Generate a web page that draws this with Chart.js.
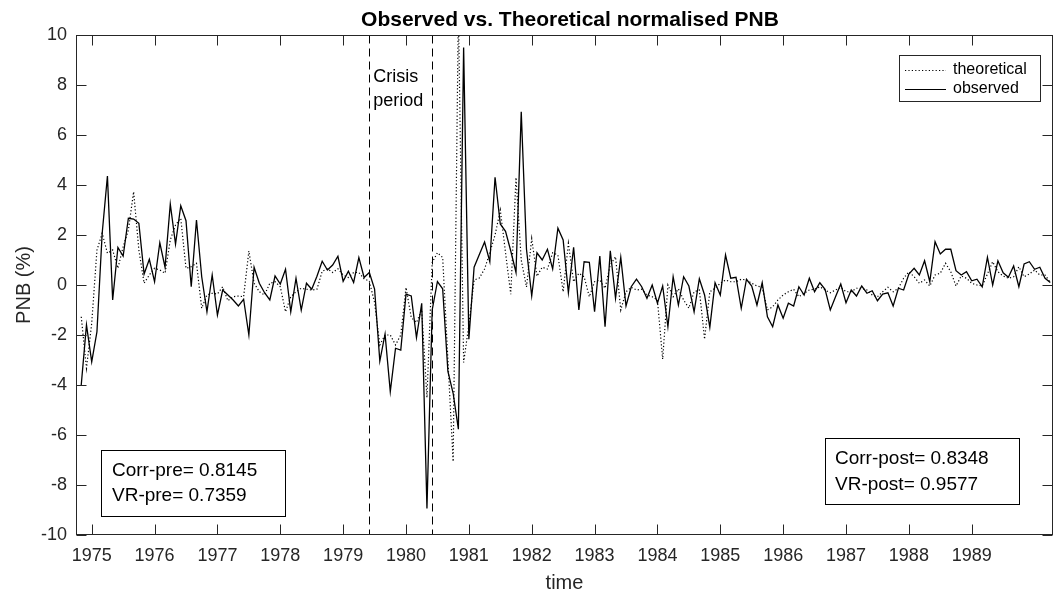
<!DOCTYPE html>
<html><head><meta charset="utf-8">
<script src="https://cdn.jsdelivr.net/npm/chart.js@4/dist/chart.umd.min.js"></script>
<style>html,body{margin:0;padding:0;background:#fff}canvas{display:block}</style>
</head><body>
<canvas id="c" width="1054" height="597"></canvas>
<script>
// Monthly series, first month = Nov 1974
const startYear = 1974, startMonth = 11;
const observed = [-4.0,-1.6,-3.07,-1.87,2.07,4.36,-0.6,1.5,1.16,2.67,2.64,2.47,0.44,1.03,0.13,1.69,0.71,3.24,1.64,3.17,
2.57,-0.07,2.6,0.33,-1.07,0.4,-1.2,-0.2,-0.4,-0.6,-0.84,-0.57,-2.0,0.71,0.07,-0.31,-0.6,0.36,0.04,0.63,
-1.07,0.27,-1.0,0.07,-0.17,0.35,0.95,0.6,0.8,1.15,0.15,0.55,0.1,1.1,0.3,0.5,-0.16,-3.04,-1.96,-4.26,
-2.53,-2.6,-0.37,-0.44,-2.1,-0.73,-8.94,-1.0,0.14,-0.15,-3.46,-4.33,-5.77,9.5,-2.17,0.71,1.22,1.72,0.93,4.31,
2.44,2.15,1.36,0.5,6.93,1.43,-0.44,1.29,1.0,1.43,0.64,2.27,1.8,-0.31,1.51,-1.0,0.93,0.91,-1.07,1.16,
-1.67,1.37,-0.53,1.11,-0.84,-0.07,0.23,-0.07,-0.53,0.0,-0.73,-0.04,-1.67,0.33,-0.8,0.33,-0.04,-1.07,0.25,-0.4,
-1.69,0.09,-0.4,1.2,0.27,0.31,-0.93,0.23,-0.04,-0.8,0.09,-1.27,-1.67,-0.8,-1.33,-0.73,-0.84,-0.07,-0.4,0.27,
-0.27,0.09,-0.17,-1.0,-0.47,0.04,-0.71,-0.2,-0.44,-0.04,-0.33,-0.23,-0.63,-0.36,-0.31,-0.84,-0.13,-0.2,0.44,0.67,
0.4,0.97,0.13,1.73,1.24,1.43,1.43,0.57,0.4,0.53,0.17,0.23,-0.07,1.11,0.0,0.97,0.49,0.31,0.76,-0.07,
0.84,0.93,0.63,0.71,0.27,0.1];
const theoretical = [-1.27,-3.33,-1.53,1.4,2.07,1.27,1.4,0.67,1.53,2.2,3.73,1.4,0.07,0.4,0.67,0.6,0.47,1.8,2.4,2.67,
0.67,0.73,0.87,-0.93,-0.4,-0.33,-0.36,-0.07,-0.63,-0.47,-0.44,-0.47,1.36,0.07,-0.27,-0.4,0.07,0.13,-0.07,-1.07,
-0.47,-0.27,-0.13,-0.17,-0.2,-0.17,0.55,0.65,0.5,0.65,0.4,0.3,0.5,0.5,0.25,0.15,-0.7,-2.4,-2.0,-2.0,
-2.4,-2.0,-0.1,-1.3,-1.5,-1.0,-4.5,0.9,1.29,1.1,-3.0,-7.06,11,-3.1,-1.6,0.2,0.28,0.64,1.29,2.0,
3.0,1.29,-0.37,4.3,1.0,-0.08,1.86,0.35,0.71,0.64,1.29,1.2,-0.27,1.67,0.13,0.47,0.33,-0.47,0.13,0.2,
-0.13,0.8,1.13,-1.0,-0.27,-0.09,-0.2,-0.17,-0.4,-0.47,-0.6,-2.97,0.0,-0.47,-0.15,-0.6,-0.93,-0.27,-0.2,-2.17,
-0.27,-0.13,0.07,0.2,0.13,0.13,0.23,0.2,0.07,-0.04,-0.09,-1.0,-0.87,-0.6,-0.4,-0.27,-0.17,-0.47,-0.33,-0.2,
-0.17,-0.07,-0.2,-0.31,-0.2,-0.09,-0.27,-0.27,-0.13,-0.13,-0.2,-0.4,-0.47,-0.27,-0.09,-0.27,-0.13,0.27,0.53,0.33,
0.07,0.2,-0.04,0.4,0.47,0.87,0.53,-0.04,0.36,0.27,0.07,0.0,-0.04,0.44,0.93,0.53,0.36,0.27,0.33,0.73,
0.33,0.44,0.6,0.4,0.4,0.1];
const xTicks = [1975,1976,1977,1978,1979,1980,1981,1982,1983,1984,1985,1986,1987,1988,1989];
const yTicks = [-10,-8,-6,-4,-2,0,2,4,6,8,10];
const crisisStartIdx = 55, crisisEndIdx = 67;
const seriesNames = ['theoretical','observed'];
const statsPre = ['Corr-pre= 0.8145','VR-pre= 0.7359'];
const statsPost = ['Corr-post= 0.8348','VR-post= 0.9577'];
const titleText = 'Observed vs. Theoretical normalised PNB';
const xTitle = 'time', yTitle = 'PNB (%)';
const crisisText = ['Crisis','period'];

const t = i => startYear + (startMonth - 1 + i) / 12;
const toPts = arr => arr.map((v, i) => ({x: t(i), y: v}));
const FONT = '"Liberation Sans", Arial, Helvetica, sans-serif';
const AX = '#262626';

const deco = {
  id: 'deco',
  beforeDraw(chart) {
    const c = chart.ctx; c.save(); c.fillStyle = '#fff'; c.fillRect(0, 0, chart.width, chart.height); c.restore();
  },
  afterDraw(chart) {
    const c = chart.ctx, a = chart.chartArea, sx = chart.scales.x, sy = chart.scales.y;
    const L = Math.round(a.left) + 0.5, R = Math.round(a.right) - 0.5, T = Math.round(a.top) + 0.5, B = Math.round(a.bottom) - 0.5;
    c.save();
    // crisis dashed lines
    c.strokeStyle = '#000'; c.lineWidth = 1; c.setLineDash([8, 5]);
    [crisisStartIdx, crisisEndIdx].forEach(i => {
      const px = Math.round(sx.getPixelForValue(t(i))) + 0.5;
      c.beginPath(); c.moveTo(px, T); c.lineTo(px, B); c.stroke();
    });
    c.setLineDash([]);
    // box + ticks
    c.strokeStyle = AX; c.lineWidth = 1;
    c.strokeRect(L, T, R - L, B - T);
    c.beginPath();
    xTicks.forEach(v => { const px = Math.round(sx.getPixelForValue(v)) + 0.5; c.moveTo(px, B); c.lineTo(px, B - 10); c.moveTo(px, T); c.lineTo(px, T + 10); });
    yTicks.forEach(v => { const py = Math.round(sy.getPixelForValue(v)) + 0.5; c.moveTo(L, py); c.lineTo(L + 10, py); c.moveTo(R, py); c.lineTo(R - 10, py); });
    c.stroke();
    // title
    c.fillStyle = '#000'; c.textAlign = 'center'; c.textBaseline = 'middle';
    c.font = 'bold 21px ' + FONT;
    c.fillText(titleText, 570, 20);
    // axis titles
    c.fillStyle = AX; c.font = '20px ' + FONT;
    c.fillText(xTitle, (a.left + a.right) / 2, 583);
    c.save(); c.translate(24, (a.top + a.bottom) / 2); c.rotate(-Math.PI / 2); c.fillText(yTitle, 0, 0); c.restore();
    // crisis text
    c.fillStyle = '#000'; c.textAlign = 'left'; c.font = '18px ' + FONT;
    const cx = sx.getPixelForValue(t(crisisStartIdx)) + 4;
    c.fillText(crisisText[0], cx, 77); c.fillText(crisisText[1], cx, 101);
    // stats boxes
    c.font = '19px ' + FONT; c.strokeStyle = '#000';
    c.fillStyle = '#fff'; c.fillRect(102, 450, 184, 66); c.strokeRect(101.5, 450.5, 184, 66);
    c.fillStyle = '#000'; c.fillText(statsPre[0], 112, 471); c.fillText(statsPre[1], 112, 496);
    c.fillStyle = '#fff'; c.fillRect(825, 438, 194, 66); c.strokeRect(825.5, 438.5, 194, 66);
    c.fillStyle = '#000'; c.fillText(statsPost[0], 835, 459); c.fillText(statsPost[1], 835, 485);
    // legend
    c.fillStyle = '#fff'; c.fillRect(899, 55, 142, 46); c.strokeStyle = AX; c.strokeRect(899.5, 55.5, 141, 46);
    c.strokeStyle = '#000'; c.lineWidth = 1.2;
    c.setLineDash([1.2, 2.2]); c.beginPath(); c.moveTo(905, 70.5); c.lineTo(946, 70.5); c.stroke();
    c.setLineDash([]); c.beginPath(); c.moveTo(905, 89.5); c.lineTo(946, 89.5); c.stroke();
    c.fillStyle = '#000'; c.font = '16px ' + FONT;
    c.fillText(seriesNames[0], 953, 70); c.fillText(seriesNames[1], 953, 89);
    c.restore();
  }
};

new Chart(document.getElementById('c'), {
  type: 'line',
  data: { datasets: [
    { label: seriesNames[1], data: toPts(observed), borderColor: '#000', borderWidth: 1.3, pointRadius: 0, tension: 0, order: 1 },
    { label: seriesNames[0], data: toPts(theoretical), borderColor: '#000', borderWidth: 1.2, borderDash: [1.2, 2.2], pointRadius: 0, tension: 0, order: 2 }
  ]},
  options: {
    responsive: false, animation: false, devicePixelRatio: 1,
    layout: { padding: { top: 35, right: 1, left: 0, bottom: 0 } },
    plugins: { legend: { display: false }, tooltip: { enabled: false }, title: { display: false } },
    scales: {
      x: { type: 'linear', min: 1974.75, max: 1990.293,
        grid: { display: false, drawTicks: false }, border: { display: false },
        ticks: { font: { family: FONT, size: 18 }, color: AX, padding: 10, maxRotation: 0, autoSkip: false, callback: v => String(v) },
        afterBuildTicks: s => { s.ticks = xTicks.map(v => ({ value: v })); },
        afterFit: s => { s.height = 62; } },
      y: { type: 'linear', min: -10, max: 10,
        grid: { display: false, drawTicks: false }, border: { display: false },
        ticks: { font: { family: FONT, size: 18 }, color: AX, padding: 9, callback: v => String(v) },
        afterBuildTicks: s => { s.ticks = yTicks.map(v => ({ value: v })); },
        afterFit: s => { s.width = 76; } }
    }
  },
  plugins: [deco]
});
</script>
</body></html>
